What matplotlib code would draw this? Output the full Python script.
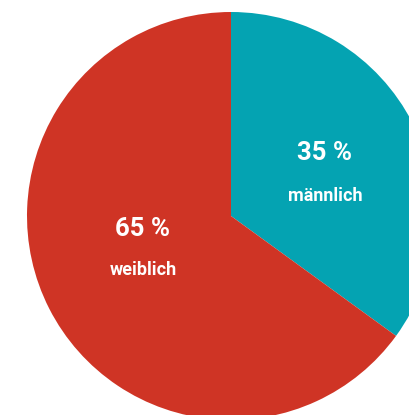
import matplotlib.pyplot as plt

# Anteile nach Geschlecht
labels = ['männlich', 'weiblich']
shares = [35, 65]
colors = ['#04A3B2', '#CF3425']

fig = plt.figure(figsize=(4.10, 4.15), dpi=100)
ax = fig.add_axes([0, 0, 1, 1])

cx, cy, r = 231, 216, 204
ax.pie(shares, colors=colors, startangle=90, counterclock=False,
       center=(cx, -cy), radius=r, wedgeprops=dict(linewidth=0))
# pie setzt eigene Grenzen, daher danach in Pixeln festlegen
ax.set_xlim(0, 410)
ax.set_ylim(-415, 0)
ax.set_aspect('equal')
ax.axis('off')

# Beschriftungen
label_pos = [(325, 153, 196), (143, 229, 270)]
for lab, val, (x, y1, y2) in zip(labels, shares, label_pos):
    ax.text(x, -y1, f'{val} %', color='white', fontsize=18.5, fontweight='bold',
            family='Roboto', ha='center', va='center')
    ax.text(x, -y2, lab, color='white', fontsize=13, fontweight='bold',
            family='Roboto', ha='center', va='center')

fig.savefig('out.png', dpi=100)
